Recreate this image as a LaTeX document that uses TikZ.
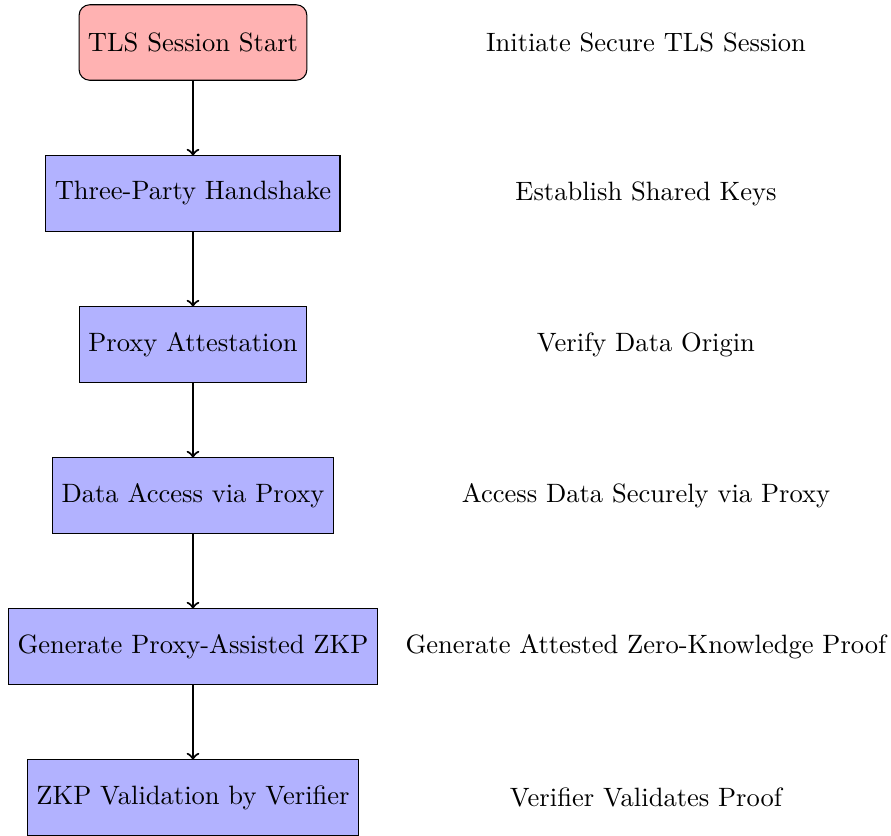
\documentclass[tikz,border=0pt]{standalone}
\usepackage{xcolor}
\usepackage{tikz}
\usetikzlibrary{positioning}

\begin{document}
\begin{tikzpicture}[
  node distance=1cm,
  bx/.style={draw,outer sep=0pt,minimum height=1cm,fill=blue!30},
  startbx/.style={draw,outer sep=0pt,rounded corners,minimum height=1cm,fill=red!30},
  note/.style={align=center},
  ar/.style={->,thick}
]
\useasboundingbox (-2.556,0.563) rectangle (9.245,-10.497);
\node[startbx] (start) {TLS Session Start};
\node[bx,below=of start] (hs) {Three-Party Handshake};
\node[bx,below=of hs] (att) {Proxy Attestation};
\node[bx,below=of att] (acc) {Data Access via Proxy};
\node[bx,below=of acc] (zkp) {Generate Proxy-Assisted ZKP};
\node[bx,below=of zkp] (val) {ZKP Validation by Verifier};
% step descriptions on the right
\node[note] (n1) at ([xshift=6cm]start) {Initiate Secure TLS Session};
\node[note] (n2) at ([xshift=6cm]hs) {Establish Shared Keys};
\node[note] (n3) at ([xshift=6cm]att) {Verify Data Origin};
\node[note] (n4) at ([xshift=6cm]acc) {Access Data Securely via Proxy};
\node[note] (n5) at ([xshift=6cm]zkp) {Generate Attested Zero-Knowledge Proof};
\node[note] (n6) at ([xshift=6cm]val) {Verifier Validates Proof};
\draw[ar] (start)--(hs);
\draw[ar] (hs)--(att);
\draw[ar] (att)--(acc);
\draw[ar] (acc)--(zkp);
\draw[ar] (zkp)--(val);
\end{tikzpicture}
\end{document}
